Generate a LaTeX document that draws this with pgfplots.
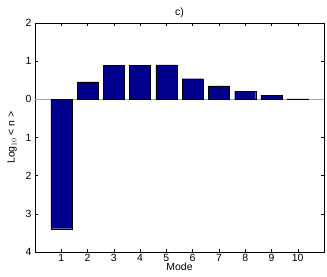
\documentclass[border=0pt]{standalone}
\usepackage{pgfplots}
\pgfplotsset{compat=1.18}
\usepackage{fontspec}
\setmainfont{Liberation Sans}
\definecolor{barblue}{rgb}{0,0,0.55}
\begin{document}
\begin{tikzpicture}
\begin{axis}[
  scale only axis, width=289bp, height=229bp,
  xmin=0, xmax=11, ymin=-4, ymax=2,
  xtick={1,...,10},
  ytick={-4,-3,-2,-1,0,1,2},
  yticklabels={4,3,2,1,0,1,2},
  tick align=inside, major tick length=3bp,
  tick style={black, line width=0.4pt},
  axis line style={black, line width=0.5pt},
  xtick pos=both, ytick pos=both,
  /pgf/number format/assume math mode=true,
  tick label style={font=\fontsize{10.5}{12}\selectfont},
  label style={font=\fontsize{10.5}{12}\selectfont},
  title style={font=\fontsize{10.5}{12}\selectfont, yshift=-4bp},
  title={c)},
  xlabel={Mode},
  ylabel={Log$_{10}$ < n >},
  xlabel style={yshift=6bp},
  ylabel style={yshift=2bp},
  xticklabel style={yshift=1bp},
]
\addplot[gray!70, line width=0.8pt, forget plot] coordinates {(0,0) (11,0)};
\addplot[ybar, bar width=0.8, fill=barblue, draw=black, line width=0.3pt] coordinates {
(1,-3.39) (2,0.46) (3,0.89) (4,0.89) (5,0.90) (6,0.54) (7,0.35) (8,0.21) (9,0.11) (10,0.015)
};
\end{axis}
\path (current axis.south west) ++(-35bp,-25bp) coordinate (bl);
\path (current axis.north east) ++(3bp,23bp) coordinate (tr);
\useasboundingbox (bl) rectangle (tr);
\end{tikzpicture}
\end{document}
